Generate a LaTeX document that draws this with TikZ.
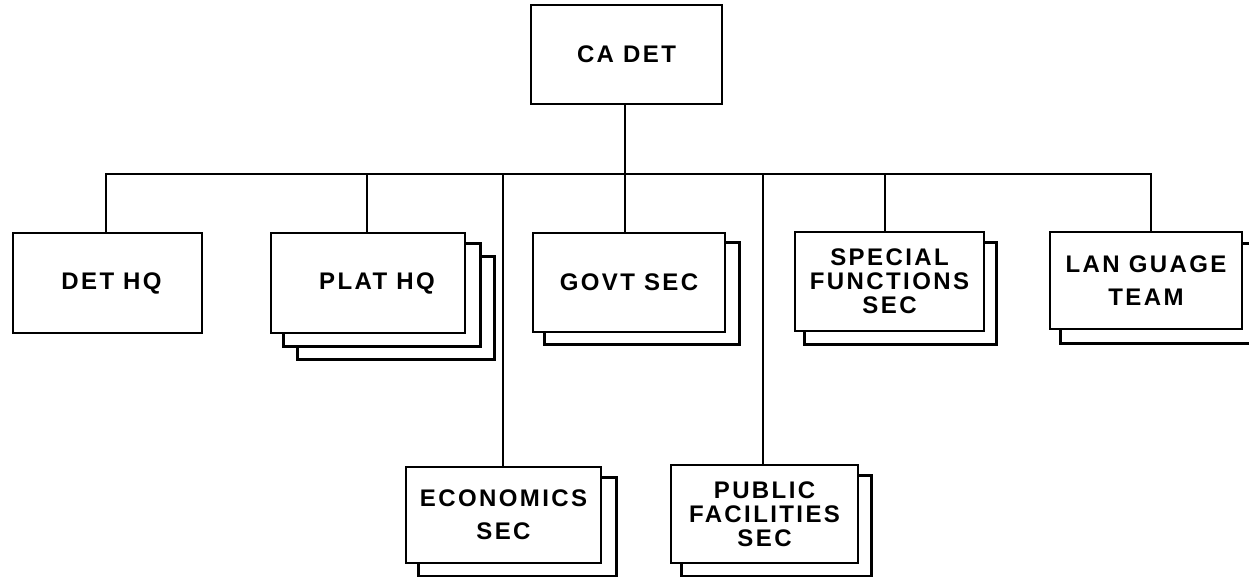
\documentclass[tikz,border=0pt]{standalone}
\usepackage{fontspec}
\setmainfont{Liberation Sans}
\newfontfamily\lblfont{Liberation Sans}[LetterSpace=10]
\usetikzlibrary{backgrounds}
\begin{document}
\begin{tikzpicture}[x=1pt,y=-1pt,
  org/.style={draw=black, line width=2.8pt, fill=white, align=center,
    font=\lblfont\bfseries\fontsize{24}{24}\selectfont, inner sep=0pt},
  shadowbox/.style={draw=black, line width=2.8pt, fill=white},
  link/.style={draw=black, line width=2pt}]
\useasboundingbox (0,0) rectangle (1249,577);

\node[org, minimum width=191pt, minimum height=99pt] (cadet) at (626.5,54.5) {CA DET};
\node[org, minimum width=189pt, minimum height=100pt] (dethq) at (107.5,283) {\hspace*{8pt}DET HQ};
\node[org, minimum width=194pt, minimum height=100pt] (plathq) at (368,283) {\hspace*{18pt}PLAT HQ};
\node[org, minimum width=192pt, minimum height=99pt] (govt) at (629,282.5) {GOVT SEC};
\node[org, minimum width=189pt, minimum height=99pt] (special) at (889.5,281.5) {SPECIAL\\FUNCTIONS\\SEC};
\node[org, minimum width=192pt, minimum height=97pt] (lang) at (1146,280.5) {LAN GUAGE\\[9pt]TEAM};
\node[org, minimum width=195pt, minimum height=96pt] (econ) at (503.5,515) {ECONOMICS\\[9pt]SEC};
\node[org, minimum width=187pt, minimum height=98pt] (public) at (764.5,514) {PUBLIC\\FACILITIES\\SEC};

\begin{scope}[on background layer]
  \draw[shadowbox] ([shift={(28,25)}]plathq.north west) rectangle ([shift={(28,25)}]plathq.south east);
  \draw[shadowbox] ([shift={(14,12)}]plathq.north west) rectangle ([shift={(14,12)}]plathq.south east);
  \draw[shadowbox] ([shift={(13,11)}]govt.north west) rectangle ([shift={(13,11)}]govt.south east);
  \draw[shadowbox] ([shift={(11,12)}]special.north west) rectangle ([shift={(11,12)}]special.south east);
  \draw[shadowbox] ([shift={(12,13)}]lang.north west) rectangle ([shift={(12,13)}]lang.south east);
  \draw[shadowbox] ([shift={(14,12)}]econ.north west) rectangle ([shift={(14,12)}]econ.south east);
  \draw[shadowbox] ([shift={(12,12)}]public.north west) rectangle ([shift={(12,12)}]public.south east);
\end{scope}

\coordinate (bL) at (106,174);
\coordinate (bR) at (1151,174);
\draw[link] ([xshift=-1.5pt]dethq.north) |- (bR) -- ([xshift=5pt]lang.north);
\draw[link] ([xshift=-1.5pt]cadet.south) -- ([xshift=-1.5pt]cadet.south |- bL);
\draw[link] ([xshift=-1pt]plathq.north) -- ([xshift=-1pt]plathq.north |- bL);
\draw[link] ([xshift=-0.5pt]econ.north) -- ([xshift=-0.5pt]econ.north |- bL);
\draw[link] ([xshift=-4pt]govt.north) -- ([xshift=-4pt]govt.north |- bL);
\draw[link] ([xshift=-1.5pt]public.north) -- ([xshift=-1.5pt]public.north |- bL);
\draw[link] ([xshift=-4.5pt]special.north) -- ([xshift=-4.5pt]special.north |- bL);
\end{tikzpicture}
\end{document}
